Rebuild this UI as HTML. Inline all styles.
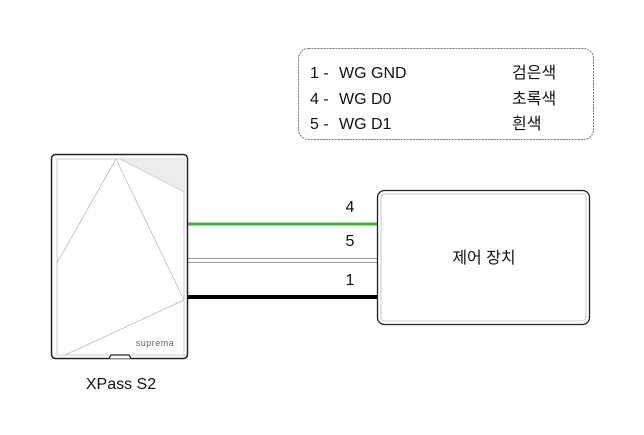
<!DOCTYPE html>
<html><head><meta charset="utf-8"><style>
html,body{margin:0;padding:0;background:#fff;}
svg{display:block;}
text{font-family:"Liberation Sans","Noto Sans CJK KR",sans-serif;fill:#111;}
</style></head><body>
<svg width="644" height="435" viewBox="0 0 644 435" xmlns="http://www.w3.org/2000/svg">
<rect x="298.5" y="48.5" width="295" height="91" rx="10" fill="#fff" stroke="#777" stroke-width="1" stroke-dasharray="2,1"/>
<text x="310" y="78" font-size="16">1 -</text>
<text x="339" y="78" font-size="16">WG GND</text>
<text x="310" y="104" font-size="16">4 -</text>
<text x="339" y="104" font-size="16">WG D0</text>
<text x="310" y="129" font-size="16">5 -</text>
<text x="339" y="129" font-size="16">WG D1</text>
<text x="512" y="78" font-size="16">검은색</text>
<text x="512" y="104" font-size="16">초록색</text>
<text x="512" y="129" font-size="16">흰색</text>

<line x1="188" y1="224" x2="378" y2="224" stroke="#3db03a" stroke-width="3"/>
<line x1="188" y1="258.5" x2="378" y2="258.5" stroke="#999" stroke-width="1"/>
<line x1="188" y1="262.5" x2="378" y2="262.5" stroke="#999" stroke-width="1"/>
<line x1="188" y1="297" x2="378" y2="297" stroke="#000" stroke-width="4"/>
<text x="350" y="212" font-size="16" text-anchor="middle">4</text>
<text x="350" y="246" font-size="16" text-anchor="middle">5</text>
<text x="350" y="285" font-size="16" text-anchor="middle">1</text>

<rect x="377.5" y="190.5" width="212" height="134" rx="7" fill="#fff" stroke="#222" stroke-width="1.3"/>
<rect x="381" y="194" width="205" height="127" rx="4" fill="none" stroke="#ccc" stroke-width="1"/>
<text x="484" y="263" font-size="16" text-anchor="middle">제어 장치</text>

<rect x="51.5" y="154.5" width="136" height="204" rx="4" fill="#fff" stroke="#222" stroke-width="1.5"/>
<rect x="57" y="159" width="127" height="196" fill="none" stroke="#ccc" stroke-width="1"/>
<polygon points="120,159 184,159 184,192" fill="#ececec"/>
<polyline points="57,263 116,159 184,300 65,355" fill="none" stroke="#bbb" stroke-width="0.8"/>
<line x1="120" y1="159" x2="184" y2="192" stroke="#ccc" stroke-width="0.8"/>
<path d="M109,358.5 L111,355 L129,355 L131,358.5" fill="#fff" stroke="#222" stroke-width="1.2"/>
<text x="155" y="346" font-size="9" text-anchor="middle" style="fill:#666;letter-spacing:0.5px">suprema</text>
<text x="121" y="389" font-size="16" text-anchor="middle">XPass S2</text>
</svg>
</body></html>
